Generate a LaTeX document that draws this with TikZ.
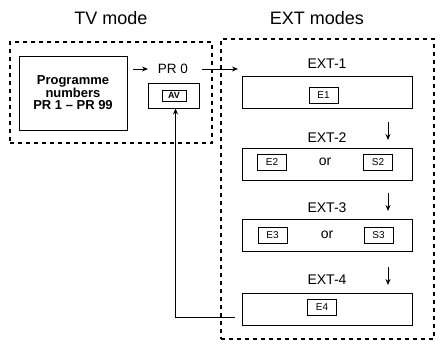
\documentclass[tikz,border=0pt]{standalone}
\usepackage{fontspec}
\setmainfont{Liberation Sans}
\usetikzlibrary{positioning,arrows.meta}

\begin{document}
\begin{tikzpicture}[x=1pt,y=-1pt,
	every node/.style={font=\fontsize{14}{16}\selectfont},
	title/.style={font=\fontsize{18}{20}\selectfont},
	group/.style={draw, line width=1.4pt, dash pattern=on 4pt off 4pt, inner sep=0pt},
	modebox/.style={draw, line width=0.9pt, inner sep=0pt, minimum width=170pt, minimum height=32pt},
	key/.style={draw, line width=0.8pt, inner sep=0pt, minimum width=29pt, minimum height=16pt, font=\fontsize{10}{12}\selectfont},
	arr/.style={-{Stealth[length=6pt,width=5pt]}, line width=0.9pt}]

\useasboundingbox (0,0) rectangle (440,341);

% titles
\node[title] (tvtitle) at (111,18) {TV mode};
\node[title] (exttitle) at (317,18) {EXT modes};

% TV mode
\node[group, minimum width=202pt, minimum height=101pt] (tv) at (111,92.5) {};
\node[draw, line width=0.9pt, minimum width=108pt, minimum height=74pt, align=center,
	font=\bfseries\fontsize{13}{12.5}\selectfont] (prog) at (73,93)
	{Programme\\numbers\\PR 1 -- PR 99};
\node[font=\fontsize{13.5}{15}\selectfont] (pr0) at (173,69) {PR 0};
\node[draw, line width=0.9pt, inner sep=0pt, minimum width=51pt, minimum height=25pt] (av) at (173.5,95.5) {};
\node[key, minimum width=24pt, minimum height=11pt, font=\bfseries\fontsize{9}{10}\selectfont] (avkey) at (174,95.5) {AV};

% EXT modes
\node[group, minimum width=213pt, minimum height=300pt] (ext) at (327.5,189) {};
\foreach \i/\ly/\by in {1/64/92, 2/138/164, 3/208/235, 4/280/309}{
	\node (lab\i) at (327,\ly) {EXT-\i};
	\node[modebox] (ext\i) at (327,\by) {};
}
\node[key] (e1) at (323.5,95) {E1};
\node[key] (e2) at (272,162.5) {E2};
\node (or2) at (325,162) {or};
\node[key] (s2) at (378,162.5) {S2};
\node[key] (e3) at (272.5,235) {E3};
\node (or3) at (327,235) {or};
\node[key] (s3) at (378.5,235) {S3};
\node[key] (e4) at (322,307) {E4};

% connectors
\coordinate (a0) at (133,69);
\coordinate (a1) at (148,69);
\coordinate (b0) at (202,69);
\coordinate (b1) at (238,69);
\draw[arr] (a0) -- (a1);
\draw[arr] (b0) -- (b1);
\foreach \y in {122,193,267}
	\draw[arr] (388,\y) -- ++(0,18);
\coordinate (fb) at (235,317);
\draw[arr] (fb) -| ([xshift=2pt]av.south);

\end{tikzpicture}
\end{document}
